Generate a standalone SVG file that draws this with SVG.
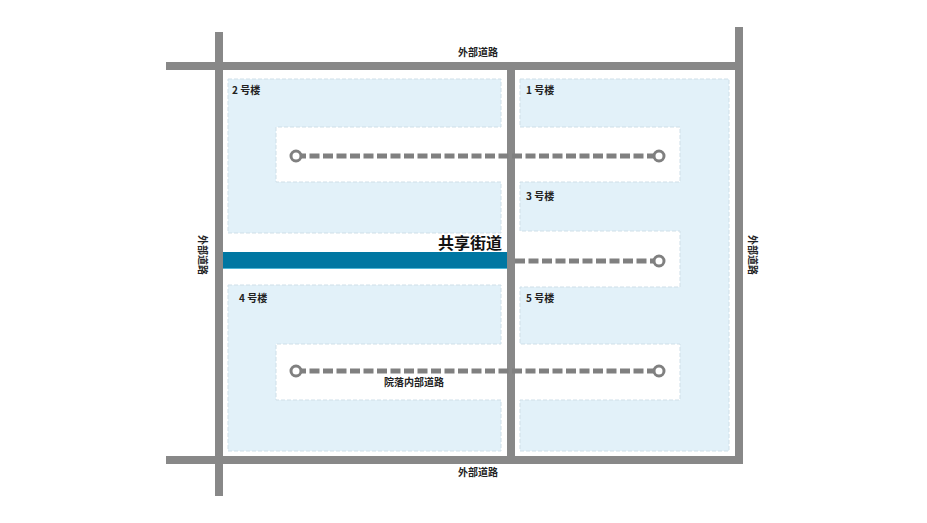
<svg xmlns="http://www.w3.org/2000/svg" width="927" height="523" viewBox="0 0 927 523">
<style>
.bld{fill:#e2f1f9;stroke:#cfdfe8;stroke-width:1;stroke-dasharray:4 2}
.road{stroke:#888888;stroke-width:8;fill:none}
.path{stroke:#808080;stroke-width:5;stroke-dasharray:10 3.5;fill:none}
.end{fill:#ffffff;stroke:#808080;stroke-width:3}
.lbl{font-family:"Noto Sans CJK SC","Noto Sans",sans-serif;font-size:10px;font-weight:bold;fill:#222222}
.big{font-family:"Noto Sans CJK SC","Noto Sans",sans-serif;font-size:16px;font-weight:bold;fill:#111111}
</style>
<rect width="927" height="523" fill="#ffffff"/>
<g id="building-2">
<path class="bld" d="M228,79 H501 V127 H276 V182 H501 V233 H228 Z"/>
<text class="lbl" x="232" y="94">2 号楼</text>
</g>
<g id="building-4">
<path class="bld" d="M228,285 H501 V344 H276 V400 H501 V451 H228 Z"/>
<text class="lbl" x="239" y="302">4 号楼</text>
</g>
<g id="building-east">
<path class="bld" d="M520,79 H729 V451 H520 V400 H680 V344 H520 V287 H680 V231 H520 V182 H680 V127 H520 Z"/>
</g>
<g id="building-1"><text class="lbl" x="526" y="94">1 号楼</text></g>
<g id="building-3"><text class="lbl" x="526" y="200">3 号楼</text></g>
<g id="building-5"><text class="lbl" x="526" y="302">5 号楼</text></g>
<g id="roads">
<line class="road" x1="166" y1="66" x2="743" y2="66"/>
<line class="road" x1="166" y1="460" x2="743" y2="460"/>
<line class="road" x1="219" y1="32" x2="219" y2="496"/>
<line class="road" x1="739" y1="27" x2="739" y2="464"/>
<line class="road" x1="511" y1="70" x2="511" y2="456"/>
<text class="lbl" x="478" y="56" text-anchor="middle">外部道路</text>
<text class="lbl" x="478" y="476" text-anchor="middle">外部道路</text>
<text class="lbl" transform="translate(199,255) rotate(90)" text-anchor="middle">外部道路</text>
<text class="lbl" transform="translate(749,255) rotate(90)" text-anchor="middle">外部道路</text>
</g>
<g id="shared-street">
<rect x="223" y="252" width="284" height="17" fill="#0077a2"/>
<line x1="223" y1="268.5" x2="507" y2="268.5" stroke="#4fb6d6" stroke-width="1"/>
<text class="big" x="502" y="249" text-anchor="end">共享街道</text>
</g>
<g id="connectors">
<line class="path" x1="296" y1="156" x2="659" y2="156"/>
<line class="path" x1="515" y1="261" x2="659" y2="261"/>
<line class="path" x1="296" y1="371" x2="659" y2="371"/>
<circle class="end" cx="296" cy="156" r="5"/>
<circle class="end" cx="659" cy="156" r="5"/>
<circle class="end" cx="659" cy="261" r="5"/>
<circle class="end" cx="296" cy="371" r="5"/>
<circle class="end" cx="659" cy="371" r="5"/>
<text class="lbl" x="414" y="386" text-anchor="middle">院落内部道路</text>
</g>
</svg>
